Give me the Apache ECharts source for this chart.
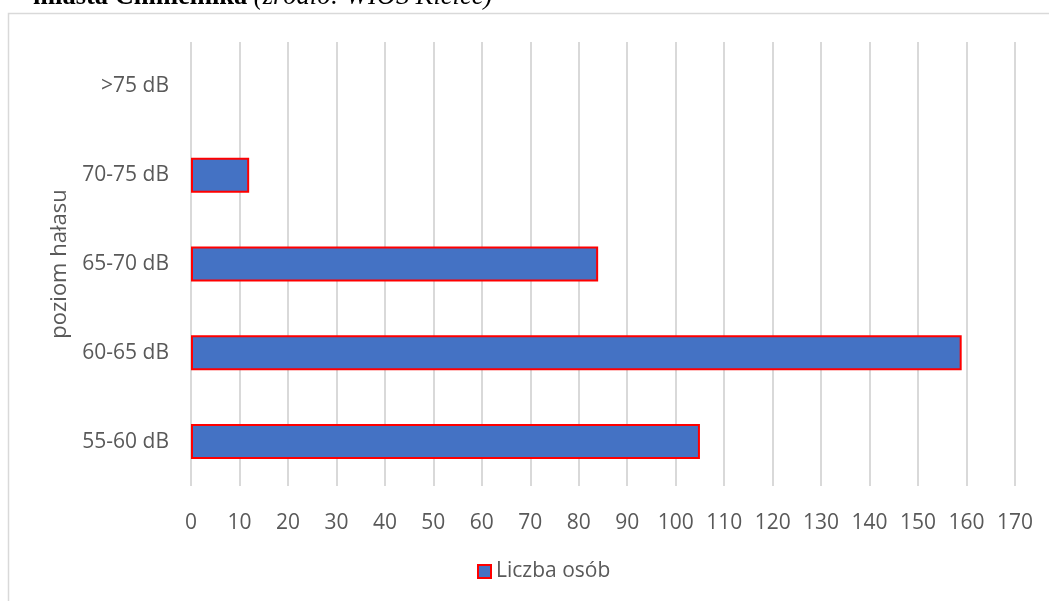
<!DOCTYPE html>
<html>
<head>
<meta charset="utf-8">
<script src="https://cdn.jsdelivr.net/npm/echarts@6/dist/echarts.min.js"></script>
<style>
html,body{margin:0;padding:0;background:#fff;}
#c{width:1049px;height:601px;}
</style>
</head>
<body>
<div id="c"></div>
<script>
const categories = ['55-60 dB', '60-65 dB', '65-70 dB', '70-75 dB', '>75 dB'];
const values = [105, 159, 84, 12, 0];
const seriesName = 'Liczba osób';
const axisName = 'poziom hałasu';
const captionBold = 'miasta Chmielnika';
const captionItalic = ' (źródło: WIOŚ Kielce)';

const chart = echarts.init(document.getElementById('c'));
const font = '"Open Sans", "Noto Sans", sans-serif';
chart.setOption({
  animation: false,
  backgroundColor: '#fff',
  graphic: [
    {type: 'rect', shape: {x: 8.5, y: 13.5, width: 1060, height: 620}, style: {fill: 'none', stroke: '#d9d9d9', lineWidth: 1.5}, silent: true},
    {type: 'text', left: 33, top: -16, style: {
      text: '{b|' + captionBold + '}{i|' + captionItalic + '}',
      rich: {
        b: {fontFamily: '"Liberation Serif", serif', fontWeight: 'bold', fontSize: 26.5, fill: '#000'},
        i: {fontFamily: '"Liberation Serif", serif', fontStyle: 'italic', fontSize: 26.5, fill: '#000'}
      }
    }}
  ],
  grid: {left: 191, right: 34, top: 42, bottom: 115, containLabel: false},
  legend: {
    bottom: 14, left: 472,
    itemWidth: 13, itemHeight: 13, itemGap: 6,
    textStyle: {color: '#595959', fontSize: 21, fontFamily: font},
    data: [{name: seriesName, icon: 'rect', itemStyle: {color: '#4472C4', borderColor: '#FF0000', borderWidth: 2}}]
  },
  xAxis: {
    type: 'value', min: 0, max: 170, interval: 10,
    axisLine: {show: false}, axisTick: {show: false},
    splitLine: {lineStyle: {color: '#d9d9d9', width: 2}},
    axisLabel: {color: '#595959', fontSize: 21, fontFamily: font, margin: 27}
  },
  yAxis: {
    type: 'category', data: categories,
    name: axisName, nameLocation: 'middle', nameGap: 120, nameRotate: 90,
    nameTextStyle: {color: '#595959', fontSize: 22, fontFamily: font},
    axisLine: {show: false}, axisTick: {show: false},
    axisLabel: {color: '#595959', fontSize: 21, fontFamily: font, margin: 22}
  },
  series: [{
    name: seriesName, type: 'bar', data: values.map(v => v === 0 ? null : v), barWidth: 35,
    itemStyle: {color: '#4472C4', borderColor: '#FF0000', borderWidth: 2}
  }]
});
</script>
</body>
</html>
